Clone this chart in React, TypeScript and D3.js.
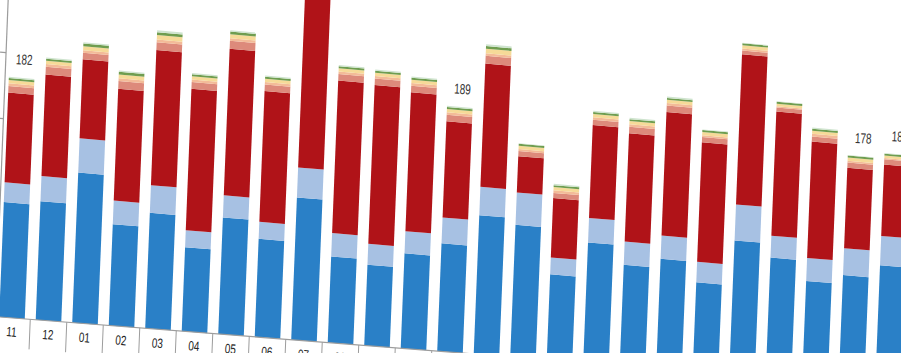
import * as d3 from 'd3';
import React from 'react';

// --------------------------------------------------------
// data (one value per month, left to right)
// --------------------------------------------------------
const months = ['11', '12', '01', '02', '03', '04', '05', '06', '07', '08', '09', '10',
  '11', '12', '01', '02', '03', '04', '05', '06', '07', '08', '09', '10', '11'];

const blue = [87, 90, 114, 77, 88, 64, 89, 75, 109, 66, 62, 73, 83, 107, 102, 66, 93, 78, 85, 69, 104, 93, 77, 84, 94];
const lightBlue = [15, 19, 26, 18, 21, 13, 17, 13, 23, 18, 16, 17, 20, 22, 25, 13, 19, 18, 18, 16, 28, 17, 18, 21, 23];
const red = [68, 77, 60, 85, 103, 108, 112, 100, 130, 117, 122, 107, 74, 95, 28, 46, 72, 84, 96, 93, 117, 97, 91, 63, 56];
const salmon = [5, 6, 5, 6, 6, 5, 6, 5, 5, 5, 5, 5, 5, 6, 4, 4, 4, 5, 5, 4, 3, 3, 4, 4, 4];
const peach = [2, 2, 2, 2, 2, 2, 2, 2, 2, 2, 2, 2, 2, 2, 1.5, 2, 2, 2, 2, 1.5, 1.5, 1, 2, 1.5, 1];
const yellow = [2.5, 2.5, 3, 3, 3.5, 2.5, 3, 2.5, 3, 2.5, 2.5, 2.5, 2.5, 3.5, 2.5, 2.5, 2.5, 2.5, 2.5, 2.5, 2.5, 2, 2.5, 2.5, 2];
const green = [1.5, 1.5, 2, 2, 2, 1.5, 2, 1.5, 2, 1.5, 1.5, 1.5, 1.5, 2, 1.5, 1.5, 1.5, 1.5, 1.5, 1.5, 1.5, 1.5, 1.5, 1.5, 1.5];
const mint = [1, 1, 1, 1, 1.5, 1, 1, 1, 1, 1, 1, 1, 1, 1.5, 0.5, 1, 1, 1, 1, 0.5, 0.5, 0.5, 1, 0.5, 0.5];

// bars that carry a total label
const labelled = [0, 12, 23, 24];
const yTicks = [150, 200];

const keys = ['blue', 'lightBlue', 'red', 'salmon', 'peach', 'yellow', 'green', 'mint'];
const colors: Record<string, string> = {
  blue: '#2a80c7', lightBlue: '#a7c1e3', red: '#b01318', salmon: '#dd8a7b',
  peach: '#f3bb98', yellow: '#f6da98', green: '#6f9d4f', mint: '#cfe4cf'
};

const W = 901, H = 353;

export default function App() {
  const table = months.map((m, i) => ({
    i, blue: blue[i], lightBlue: lightBlue[i], red: red[i], salmon: salmon[i],
    peach: peach[i], yellow: yellow[i], green: green[i], mint: mint[i]
  }));
  const series = d3.stack<any>().keys(keys)(table);
  const totals = table.map(d => d3.sum(keys, k => d[k]));

  const x = d3.scaleBand<number>()
    .domain(d3.range(months.length))
    .range([-6.25, 906.25])
    .paddingInner(0.3)
    .paddingOuter(0.15);
  const y = d3.scaleLinear().domain([0, 200]).range([0, 264]);

  // the photo is tilted: baseline slopes down, bars lean right, far side shrinks
  const lean = 0.04;
  const slope = 0.078;
  const base = (xu: number) => 317 + slope * xu;
  const shrink = (xu: number) => (1.32 - 0.00005 * xu) / 1.32;
  const projPx = (xu: number, h: number): [number, number] => [xu + lean * h, base(xu) - h];
  const proj = (xu: number, v: number) => projPx(xu, y(v) * shrink(xu));
  const angle = Math.atan(slope) * 180 / Math.PI;

  const poly = (x0: number, x1: number, v0: number, v1: number) =>
    [proj(x0, v0), proj(x1, v0), proj(x1, v1), proj(x0, v1)].map(p => p.join(',')).join(' ');

  const axisX = -4.5;
  const step = x.step();
  const dividers = d3.range(months.length + 1).map(i => x(0)! - (step - x.bandwidth()) / 2 + i * step);

  return (
    <svg width={W} height={H} style={{ position: 'fixed', left: 0, top: 0, background: '#fff' }}
      fontFamily="'Liberation Sans', Arial, sans-serif">
      <rect width={W} height={H} fill="#fff" />
      {series.map(s => (
        <g key={s.key} fill={colors[s.key]}>
          {s.map((d, i) => (
            <polygon key={i} points={poly(x(i)!, x(i)! + x.bandwidth(), d[0], d[1])} />
          ))}
        </g>
      ))}

      {/* y axis with its two visible ticks */}
      <line x1={proj(axisX, 0)[0]} y1={proj(axisX, 0)[1]} x2={proj(axisX, 260)[0]} y2={proj(axisX, 260)[1]}
        stroke="#9c9c9c" strokeWidth={1.2} />
      {yTicks.map(t => {
        const [px, py] = proj(axisX, t);
        return <line key={t} x1={px - 6} y1={py - 0.5} x2={px} y2={py} stroke="#9c9c9c" strokeWidth={1.2} />;
      })}

      {/* x axis and the category cells */}
      <line x1={proj(axisX, 0)[0]} y1={proj(axisX, 0)[1]} x2={proj(940, 0)[0]} y2={proj(940, 0)[1]}
        stroke="#9c9c9c" strokeWidth={1.2} />
      {dividers.map((bx, i) => {
        const a = projPx(bx, 0), b = projPx(bx, -30);
        return <line key={i} x1={a[0]} y1={a[1]} x2={b[0]} y2={b[1]} stroke="#9c9c9c" strokeWidth={1} />;
      })}
      {months.map((m, i) => {
        const [px, py] = projPx(x(i)! + x.bandwidth() / 2, -14);
        return (
          <text key={i} transform={`translate(${px},${py}) rotate(${angle}) scale(1,1.35)`}
            textAnchor="middle" dominantBaseline="central" fontSize={10} fill="#222">{m}</text>
        );
      })}

      {labelled.map(i => {
        const [px, py] = proj(x(i)! + x.bandwidth() / 2, totals[i] + 13.5);
        return (
          <text key={i} transform={`translate(${px + 2},${py}) rotate(${angle * 0.6}) scale(1,1.45)`}
            textAnchor="middle" dominantBaseline="central" fontSize={10} fill="#333">{totals[i]}</text>
        );
      })}
    </svg>
  );
}
